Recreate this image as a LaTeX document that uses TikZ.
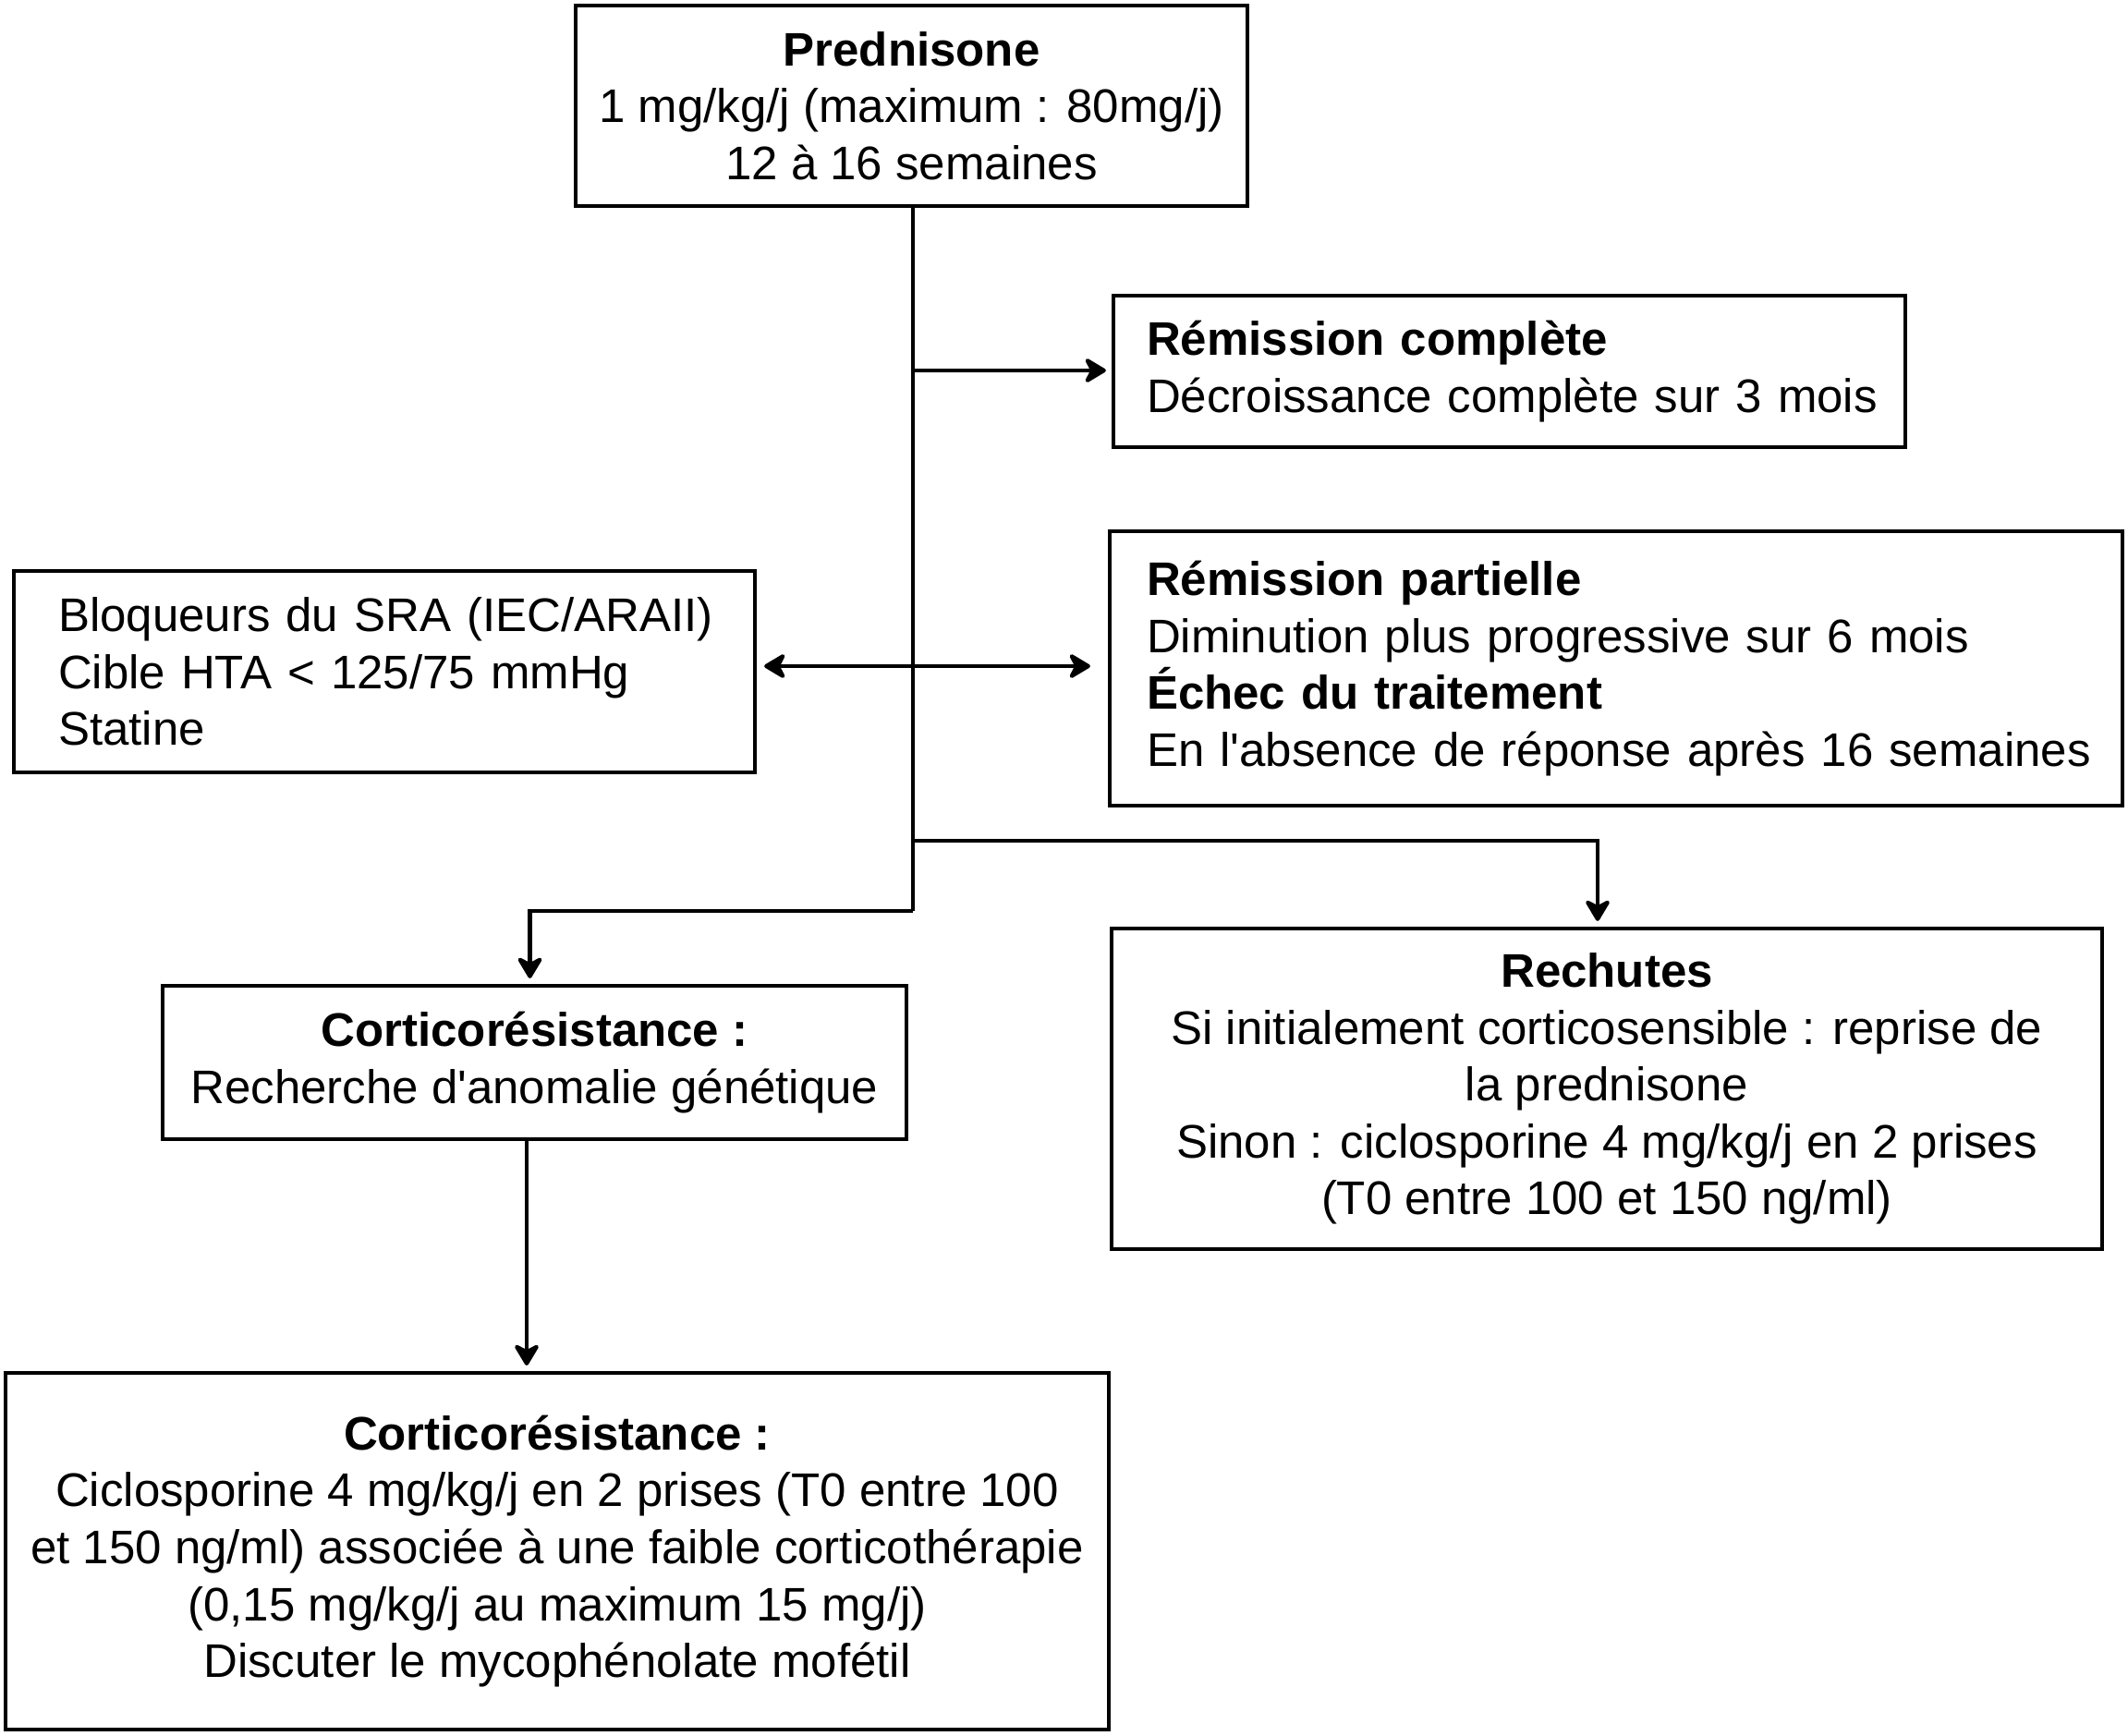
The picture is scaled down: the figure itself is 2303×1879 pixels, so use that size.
\documentclass[tikz,border=0pt]{standalone}
\usepackage{fontspec}
\setmainfont{Liberation Sans}
\usetikzlibrary{arrows.meta}
\begin{document}
\begin{tikzpicture}[x=0.5pt,y=-0.5pt,
  box/.style={draw, line width=2.1pt, inner ysep=2pt, font=\fontsize{25.5}{30.8}\selectfont},
  cbox/.style={box, align=center, inner xsep=4pt},
  lbox/.style={box, align=left},
  conn/.style={line width=2.1pt},
  tip/.tip={Stealth[length=13.5pt,width=16pt,inset=4pt,round]},
  arr/.style={conn, -tip, shorten >=3pt},
]
\useasboundingbox (0,0) rectangle (2303,1879);

\node[cbox, minimum width=363.5pt, minimum height=108.5pt] (pred) at (986.5,114.5)
  {\textbf{Prednisone}\\1 mg/kg/j (maximum : 80mg/j)\\12 à 16 semaines};

\node[lbox, minimum width=428.5pt, minimum height=82pt, inner xsep=18pt, text width=392.5pt] (remc) at (1633.5,402)
  {\mbox{\textbf{Rémission complète}}\\\mbox{Décroissance complète sur 3 mois}};

\node[lbox, minimum width=548pt, minimum height=148.5pt, inner xsep=20pt, text width=508pt] (remp) at (1749,723.5)
  {\mbox{\textbf{Rémission partielle}}\\\mbox{Diminution plus progressive sur 6 mois}\\\mbox{\textbf{Échec du traitement}}\\\mbox{En l\textquotesingle absence de réponse après 16 semaines}};

\node[lbox, minimum width=401pt, minimum height=109pt, inner xsep=24pt, text width=353pt] (bloq) at (416,727)
  {\mbox{Bloqueurs du SRA (IEC/ARAII)}\\\mbox{Cible HTA < 125/75 mmHg}\\\mbox{Statine}};

\node[cbox, minimum width=402.5pt, minimum height=83pt] (cort1) at (578.5,1150)
  {\textbf{Corticorésistance :}\\Recherche d\textquotesingle anomalie génétique};

\node[cbox, minimum width=536pt, minimum height=173.5pt] (rech) at (1739,1178.5)
  {\textbf{Rechutes}\\Si initialement corticosensible : reprise de\\la prednisone\\Sinon : ciclosporine 4 mg/kg/j en 2 prises\\(T0 entre 100 et 150 ng/ml)};

\node[cbox, minimum width=597pt, minimum height=193pt] (box2) at (603,1679)
  {\textbf{Corticorésistance :}\\Ciclosporine 4 mg/kg/j en 2 prises (T0 entre 100\\et 150 ng/ml) associée à une faible corticothérapie\\(0,15 mg/kg/j au maximum 15 mg/j)\\Discuter le mycophénolate mofétil};

\coordinate (tc) at (988,401);
\coordinate (dy) at (0,721);
\coordinate (tr) at (988,910);
\coordinate (tl) at (988,986);

\draw[conn] (pred.south -| tl) -- (tl);
\draw[arr] (tc) -- (tc -| remc.west);
\draw[conn, tip-tip, shorten <=4pt, shorten >=9.5pt] (bloq.east |- dy) -- (remp.west |- dy);
\draw[arr] (tr) -| ([xshift=-5pt]rech.north);
\draw[arr] (tl) -| ([xshift=-2.5pt]cort1.north);
\draw[arr] ([xshift=-4.25pt]cort1.south) -- ([xshift=-4.25pt]cort1.south |- box2.north);
\end{tikzpicture}
\end{document}
